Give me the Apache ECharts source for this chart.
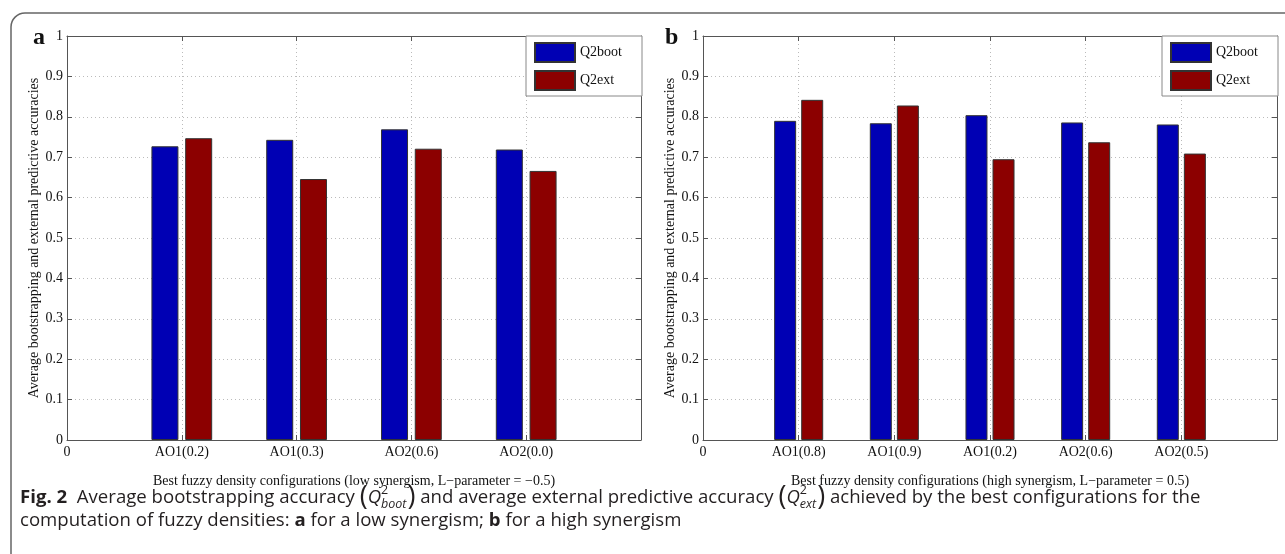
<!DOCTYPE html>
<html><head><meta charset="utf-8">
<script src="https://cdn.jsdelivr.net/npm/echarts@6/dist/echarts.min.js"></script>
<style>html,body{margin:0;padding:0;background:#fff}#c{width:1285px;height:554px}</style>
</head><body><div id="c"></div>
<script>
// ---- data ----
const catsA = ['AO1(0.2)', 'AO1(0.3)', 'AO2(0.6)', 'AO2(0.0)'];
const bootA = [0.727, 0.743, 0.769, 0.719];
const extA  = [0.747, 0.646, 0.721, 0.666];
const catsB = ['AO1(0.8)', 'AO1(0.9)', 'AO1(0.2)', 'AO2(0.6)', 'AO2(0.5)'];
const bootB = [0.790, 0.784, 0.804, 0.786, 0.781];
const extB  = [0.842, 0.828, 0.695, 0.737, 0.709];
const xTicksA = ['0'].concat(catsA, ['']);
const xTicksB = ['0'].concat(catsB, ['']);
const seriesNames = ['Q2boot', 'Q2ext'];
const yNameText = 'Average bootstrapping and external predictive accuracies';
const xNameA = 'Best fuzzy density configurations (low synergism, L\u2212parameter = \u22120.5)';
const xNameB = 'Best fuzzy density configurations (high synergism, L\u2212parameter = 0.5)';

const SERIF = '"Liberation Serif", "DejaVu Serif", serif';
const SANS = '"Open Sans", "Noto Sans", sans-serif';
const BLUE = '#0000b4', RED = '#8c0000';
const AX = '#555';
const TXT = '#111';

function axesFor(gi, xmax, ticks, xname) {
  const xs = [{
    type: 'value', gridIndex: gi, min: 0, max: xmax, interval: 1, position: 'bottom',
    name: xname, nameLocation: 'middle', nameGap: 34,
    nameTextStyle: { fontFamily: SERIF, fontSize: 14, color: TXT },
    axisLine: { show: true, onZero: false, lineStyle: { color: AX, width: 1 } },
    axisTick: { show: true, inside: true, length: 5, lineStyle: { color: AX } },
    axisLabel: { fontFamily: SERIF, fontSize: 14, color: TXT, margin: 5,
      formatter: v => ticks[Math.round(v)] || '' },
    splitLine: { show: true, lineStyle: { color: '#bbb', type: [1, 3], width: 1 } }
  }, {
    type: 'value', gridIndex: gi, min: 0, max: xmax, interval: 1, position: 'top',
    axisLine: { show: true, onZero: false, lineStyle: { color: AX, width: 1 } },
    axisTick: { show: true, inside: true, length: 5, lineStyle: { color: AX } },
    axisLabel: { show: false }, splitLine: { show: false }
  }];
  const ys = [{
    type: 'value', gridIndex: gi, min: 0, max: 1, interval: 0.1, position: 'left',
    name: yNameText, nameLocation: 'middle', nameGap: 25, nameRotate: 90,
    nameTextStyle: { fontFamily: SERIF, fontSize: 14, color: TXT },
    axisLine: { show: true, onZero: false, lineStyle: { color: AX, width: 1 } },
    axisTick: { show: true, inside: true, length: 5, lineStyle: { color: AX } },
    axisLabel: { fontFamily: SERIF, fontSize: 14, color: TXT, margin: 4 },
    splitLine: { show: true, lineStyle: { color: '#bbb', type: [1, 3], width: 1 } }
  }, {
    type: 'value', gridIndex: gi, min: 0, max: 1, interval: 0.1, position: 'right',
    axisLine: { show: true, onZero: false, lineStyle: { color: AX, width: 1 } },
    axisTick: { show: true, inside: true, length: 5, lineStyle: { color: AX } },
    axisLabel: { show: false }, splitLine: { show: false }
  }];
  return { xs, ys };
}

const A = axesFor(0, 5, xTicksA, xNameA);
const B = axesFor(1, 6, xTicksB, xNameB);

function bar(name, vals, color, xi, yi, w, gap) {
  return {
    type: 'bar', name, xAxisIndex: xi, yAxisIndex: yi,
    data: vals.map((v, i) => [i + 1, v]),
    barWidth: w, barGap: gap,
    itemStyle: { color, borderColor: '#333', borderWidth: 1 },
    emphasis: { disabled: true }
  };
}

// ---- caption layout via text measurement ----
const mctx = document.createElement('canvas').getContext('2d');
function fnt(s) { return (s.italic ? 'italic ' : '') + (s.bold ? 'bold ' : '') + s.size + 'px ' + (s.family || SANS); }
function measure(t, s) { mctx.font = fnt(s); return mctx.measureText(t).width; }
const CAP = 18.6;
const CAPC = '#231f20';
function captionLine(segs, x0, y) {
  const els = []; let x = x0;
  segs.forEach(s => {
    if (s.stack) {
      const sup = { size: 12.5 }, sub = { size: 12.5, italic: true };
      els.push({ type: 'text', x: x, y: y - 8, style: { text: s.sup, font: fnt(sup), fill: CAPC, verticalAlign: 'middle', textVerticalAlign: 'middle' } });
      els.push({ type: 'text', x: x, y: y + 6, style: { text: s.sub, font: fnt(sub), fill: CAPC, verticalAlign: 'middle', textVerticalAlign: 'middle' } });
      x += Math.max(measure(s.sup, sup), measure(s.sub, sub)) + 1;
    } else {
      const st = Object.assign({ size: CAP }, s);
      els.push({ type: 'text', x: x, y: y + (s.dy || 0), style: { text: s.t, font: fnt(st), fill: CAPC, verticalAlign: 'middle', textVerticalAlign: 'middle' } });
      x += measure(s.t, st);
    }
  });
  return els;
}
const line1 = [
  { t: 'Fig. 2', bold: true },
  { t: '  Average bootstrapping accuracy ' },
  { t: '(', size: 27, dy: -1 }, { t: 'Q', italic: true }, { stack: true, sup: '2', sub: 'boot' }, { t: ')', size: 27, dy: -1 },
  { t: ' and average external predictive accuracy ' },
  { t: '(', size: 27, dy: -1 }, { t: 'Q', italic: true }, { stack: true, sup: '2', sub: 'ext' }, { t: ')', size: 27, dy: -1 },
  { t: ' achieved by the best configurations for the' }
];
const line2 = [
  { t: 'computation of fuzzy densities: ' }, { t: 'a', bold: true }, { t: ' for a low synergism; ' },
  { t: 'b', bold: true }, { t: ' for a high synergism' }
];

const graphics = [
  { type: 'rect', shape: { x: 11, y: 13, width: 1330, height: 620, r: 14 }, style: { fill: 'none', stroke: '#666', lineWidth: 1.5 }, z: -1 },
  { type: 'text', x: 33, y: 38, style: { text: 'a', font: 'bold 24px ' + SERIF, fill: TXT, verticalAlign: 'middle', textVerticalAlign: 'middle' } },
  { type: 'text', x: 665, y: 38, style: { text: 'b', font: 'bold 24px ' + SERIF, fill: TXT, verticalAlign: 'middle', textVerticalAlign: 'middle' } }
].concat(captionLine(line1, 20, 498), captionLine(line2, 20, 521));

function legendAt(left) {
  return {
    data: seriesNames, orient: 'vertical', left: left, top: 36,
    itemWidth: 40, itemHeight: 19, itemGap: 7, icon: 'rect',
    padding: [6, 20, 5, 8], backgroundColor: '#fff', borderColor: '#888', borderWidth: 1, borderRadius: 0,
    textStyle: { fontFamily: SERIF, fontSize: 14, color: TXT, lineHeight: 19, height: 19 },
    selectedMode: false
  };
}

const option = {
  animation: false,
  backgroundColor: '#fff',
  grid: [
    { left: 67, right: 644, top: 36, bottom: 114, show: false },
    { left: 703, right: 8, top: 36, bottom: 114, show: false }
  ],
  xAxis: A.xs.concat(B.xs),
  yAxis: A.ys.concat(B.ys),
  legend: [legendAt(526), legendAt(1162)],
  series: [
    bar(seriesNames[0], bootA, BLUE, 0, 0, 27, '25%'),
    bar(seriesNames[1], extA, RED, 0, 0, 27, '25%'),
    bar(seriesNames[0], bootB, BLUE, 2, 2, 22, '23%'),
    bar(seriesNames[1], extB, RED, 2, 2, 22, '23%')
  ],
  graphic: graphics
};
const chart = echarts.init(document.getElementById('c'), null, { renderer: 'canvas' });
chart.setOption(option);
</script></body></html>
